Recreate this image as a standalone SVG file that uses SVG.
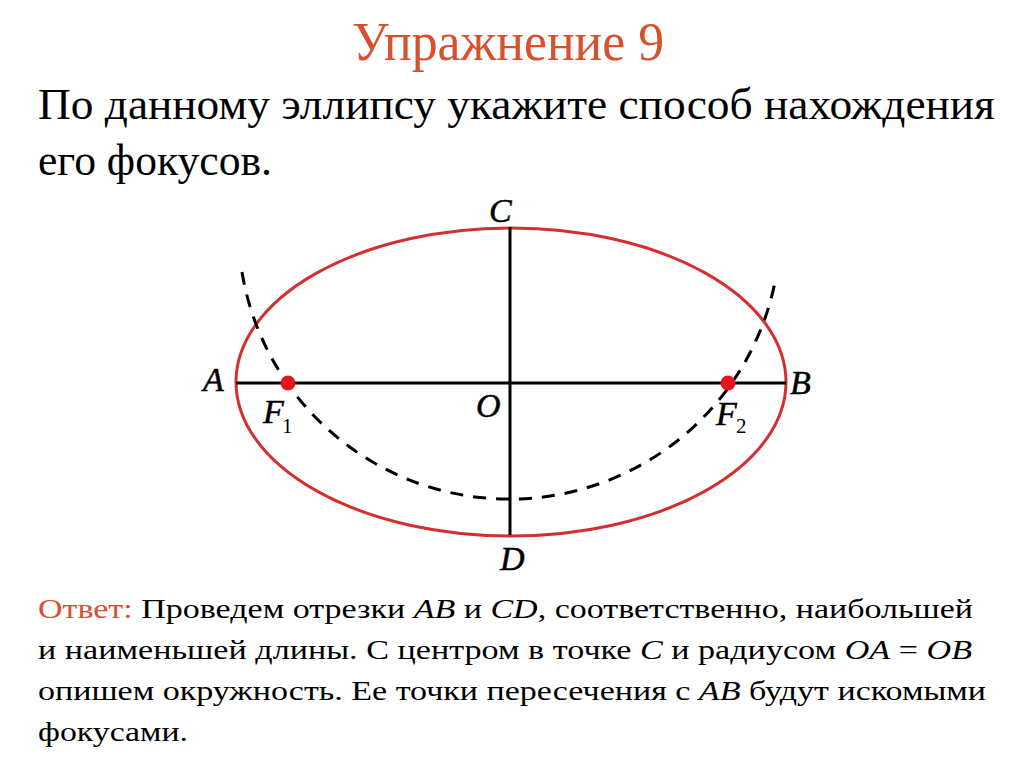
<svg xmlns="http://www.w3.org/2000/svg" width="1024" height="768" viewBox="0 0 1024 768">
<style>
.t{font-family:"Liberation Serif","Times New Roman",serif;fill:#000}
.lbl{font-family:"Liberation Serif","Times New Roman",serif;font-style:italic;font-size:34px;fill:#000;stroke:#000;stroke-width:0.5}
.sub{font-family:"Liberation Serif","Times New Roman",serif;font-size:21px;fill:#000}
.it{font-style:italic}
.red{fill:#d9502e}
</style>
<rect width="1024" height="768" fill="#fff"/>
<text class="t red" x="508" y="60" font-size="55" text-anchor="middle" textLength="312" lengthAdjust="spacingAndGlyphs">Упражнение 9</text>
<text class="t" x="38" y="119" font-size="44" textLength="957" lengthAdjust="spacingAndGlyphs">По данному эллипсу укажите способ нахождения</text>
<text class="t" x="38" y="175" font-size="44" textLength="234" lengthAdjust="spacingAndGlyphs">его фокусов.</text>

<g id="ellipse"><ellipse cx="511" cy="382" rx="275" ry="154" fill="none" stroke="#d32f2f" stroke-width="3"/></g>
<g id="connectors" stroke="#000" stroke-width="3" fill="none">
<line x1="236" y1="383" x2="786" y2="383"/>
<line x1="510" y1="227" x2="510" y2="535"/>
<path d="M 242 272 A 271 271 0 0 0 775 282" stroke-dasharray="13 10"/>
</g>
<g id="F1"><circle cx="288" cy="383" r="7.5" fill="#e8141c"/></g>
<g id="F2"><circle cx="728" cy="383" r="7.5" fill="#e8141c"/></g>

<g id="labels">
<text class="lbl" x="489" y="222">C</text>
<text class="lbl" x="203" y="391">A</text>
<text class="lbl" x="790" y="394">B</text>
<text class="lbl" x="476" y="417">O</text>
<text class="lbl" x="263" y="423">F</text><text class="sub" x="282" y="433">1</text>
<text class="lbl" x="716" y="425">F</text><text class="sub" x="736" y="433">2</text>
<text class="lbl" x="500" y="570">D</text>
</g>

<g id="answer" font-size="27">
<text class="t" x="38" y="618" textLength="935" lengthAdjust="spacingAndGlyphs"><tspan class="red">Ответ:</tspan> Проведем отрезки <tspan class="it">AB</tspan> и <tspan class="it">CD</tspan>, соответственно, наибольшей</text>
<text class="t" x="38" y="659" textLength="934" lengthAdjust="spacingAndGlyphs">и наименьшей длины. С центром в точке <tspan class="it">C</tspan> и радиусом <tspan class="it">OA</tspan> = <tspan class="it">OB</tspan></text>
<text class="t" x="38" y="700" textLength="948" lengthAdjust="spacingAndGlyphs">опишем окружность. Ее точки пересечения с <tspan class="it">AB</tspan> будут искомыми</text>
<text class="t" x="38" y="741" textLength="150" lengthAdjust="spacingAndGlyphs">фокусами.</text>
</g>
</svg>
